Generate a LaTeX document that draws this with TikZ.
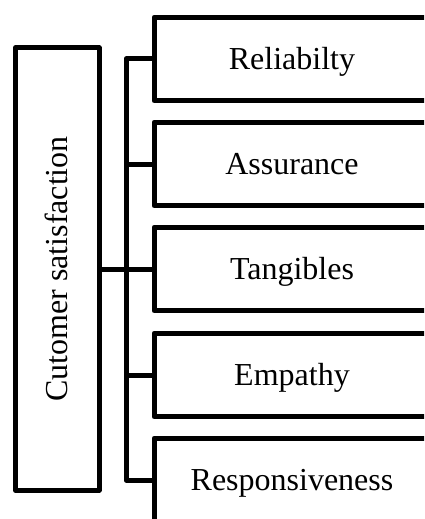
\documentclass[tikz,border=0pt]{standalone}
\usepackage{fontspec}
\setmainfont{Liberation Serif}
\begin{document}
\begin{tikzpicture}[x=1pt,y=-1pt,
  box/.style={draw, line width=5pt, line join=round, minimum height=83.5pt,
    inner sep=0pt, outer sep=0pt, text height=21.2pt, text depth=0pt,
    font=\fontsize{32}{38}\selectfont},
  item/.style={box, minimum width=276pt},
  link/.style={line width=5pt, line join=round}]
\useasboundingbox (0,0) rectangle (424,519);
\clip (0,0) rectangle (424,519);
% root box, text reading bottom to top
\node[box, rotate=90, minimum width=442.5pt] (main) at (57.25,269) {Cutomer satisfaction};
% dimension boxes
\node[item] (rel)  at (292,59)    {Reliabilty};
\node[item] (ass)  at (292,164)   {Assurance};
\node[item] (tan)  at (292,269)   {Tangibles};
\node[item] (emp)  at (292,375)   {Empathy};
\node[item] (resp) at (292,480)   {Responsiveness};
% vertical bus
\coordinate (bus) at (126,0);
\draw[link] (rel.west) -- (rel.west -| bus) -- (resp.west -| bus) -- (resp.west);
\foreach \n in {ass,tan,emp}
  \draw[link] (\n.west -| bus) -- (\n.west);
\draw[link] (main.south) -- (tan.west -| bus);
\end{tikzpicture}
\end{document}
